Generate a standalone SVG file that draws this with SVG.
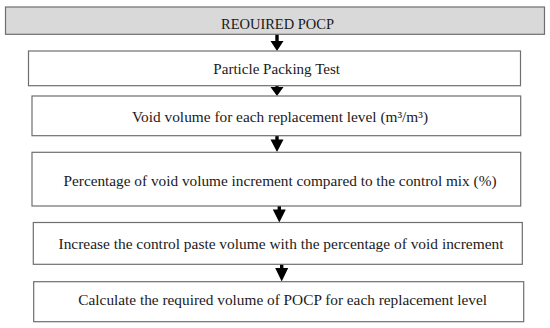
<svg xmlns="http://www.w3.org/2000/svg" width="550" height="328" viewBox="0 0 550 328">
<style>
  .box { fill: #ffffff; stroke: #6e6e6e; stroke-width: 1.2; }
  .head { fill: #d9d9d9; }
  .lbl { font-family: "Liberation Serif", "Times New Roman", serif; font-size: 14.5px; fill: #1a1a1a; text-anchor: middle; }
  .arrow { fill: #000000; stroke: none; }
</style>
<rect x="0" y="0" width="550" height="328" fill="#ffffff"/>
<g id="connectors">
  <path class="arrow" d="M275.3,34 H278.7 V41 H283.5 L277,51 L270.5,41 H275.3 Z"/>
  <path class="arrow" d="M275.3,85.5 H278.7 V87 H283.5 L277,96 L270.5,87 H275.3 Z"/>
  <path class="arrow" d="M275.3,135.5 H278.7 V139.5 H283.5 L277,152 L270.5,139.5 H275.3 Z"/>
  <path class="arrow" d="M277.6,206 H281 V209.5 H285.8 L279.3,222.5 L272.8,209.5 H277.6 Z"/>
  <path class="arrow" d="M280,264 H283.4 V268 H288.2 L281.7,281.5 L275.2,268 H280 Z"/>
</g>
<g id="node1">
  <rect class="box head" x="5.5" y="7" width="539" height="27.3"/>
  <text class="lbl" x="277.5" y="28.7" textLength="113" lengthAdjust="spacingAndGlyphs">REOUIRED POCP</text>
</g>
<g id="node2">
  <rect class="box" x="28.5" y="51" width="492" height="34.7"/>
  <text class="lbl" x="276.7" y="73.5" textLength="126.7" lengthAdjust="spacingAndGlyphs">Particle Packing Test</text>
</g>
<g id="node3">
  <rect class="box" x="32" y="96" width="488.7" height="39.7"/>
  <text class="lbl" x="280" y="121.7" textLength="296" lengthAdjust="spacingAndGlyphs">Void volume for each replacement level (m³/m³)</text>
</g>
<g id="node4">
  <rect class="box" x="32" y="152.3" width="488.7" height="53.7"/>
  <text class="lbl" x="280" y="186" textLength="433" lengthAdjust="spacingAndGlyphs">Percentage of void volume increment compared to the control mix (%)</text>
</g>
<g id="node5">
  <rect class="box" x="33.3" y="222.5" width="489" height="41.8"/>
  <text class="lbl" x="281" y="249.3" textLength="445" lengthAdjust="spacingAndGlyphs">Increase the control paste volume with the percentage of void increment</text>
</g>
<g id="node6">
  <rect class="box" x="33.7" y="281.7" width="490" height="40"/>
  <text class="lbl" x="282.7" y="305" textLength="408.7" lengthAdjust="spacingAndGlyphs">Calculate the required volume of POCP for each replacement level</text>
</g>
</svg>
